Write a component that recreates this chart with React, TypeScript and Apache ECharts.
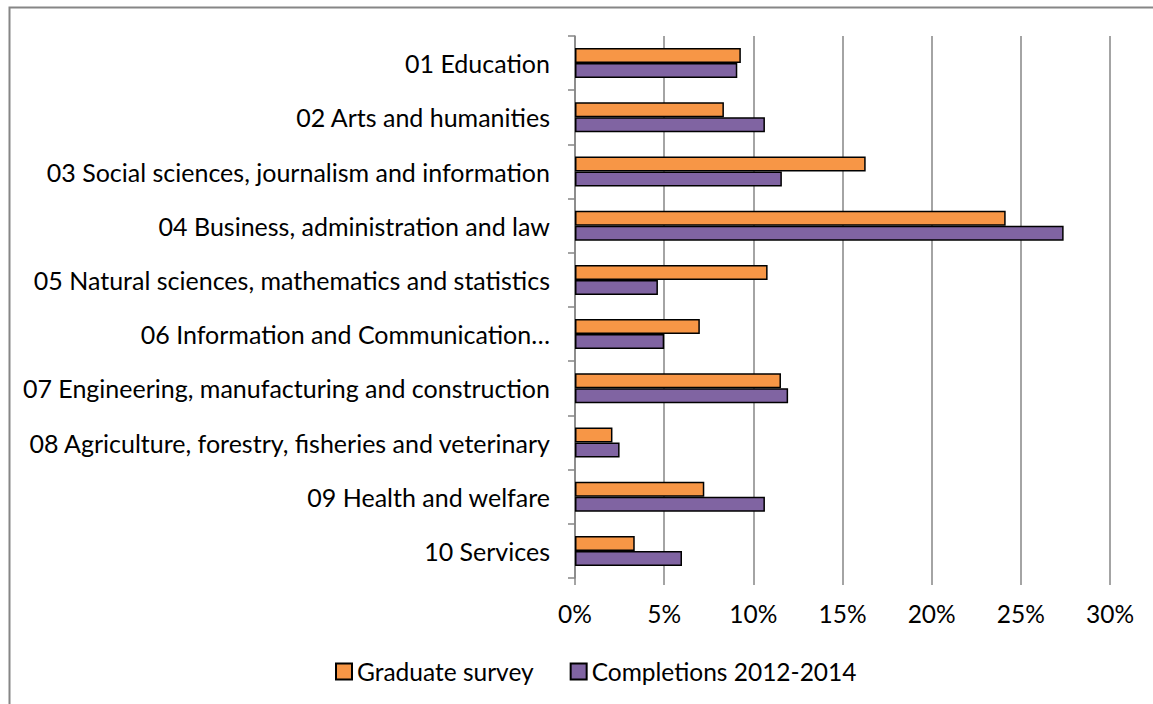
import React, { useEffect, useRef } from "react";
import * as echarts from "echarts";

const categories = [
  "01 Education",
  "02 Arts and humanities",
  "03 Social sciences, journalism and information",
  "04 Business, administration and law",
  "05 Natural sciences, mathematics and statistics",
  "06 Information and Communication…",
  "07 Engineering, manufacturing and construction",
  "08 Agriculture, forestry, fisheries and veterinary",
  "09 Health and welfare",
  "10 Services",
];
const graduateSurvey = [9.3, 8.35, 16.3, 24.15, 10.8, 7.0, 11.55, 2.1, 7.25, 3.35];
const completions = [9.1, 10.65, 11.6, 27.4, 4.65, 5.0, 11.95, 2.5, 10.65, 6.0];
const seriesNames = ["Graduate survey", "Completions 2012-2014"];

const FONT = "Lato";
const FS = 24.5;

export default function App() {
  const ref = useRef<HTMLDivElement>(null);
  useEffect(() => {
    if (!ref.current) return;
    const chart = echarts.init(ref.current, undefined, { renderer: "svg" });
    chart.setOption({
      animation: false,
      backgroundColor: "#fff",
      textStyle: { fontFamily: FONT },
      graphic: [
        {
          type: "rect",
          shape: { x: 9.5, y: 7.5, width: 1400, height: 900 },
          style: { fill: "none", stroke: "#868686", lineWidth: 2 },
          silent: true,
        },
      ],
      grid: { left: 575, right: 43, top: 36, bottom: 126, containLabel: false },
      legend: {
        top: 654,
        left: 330,
        itemWidth: 16,
        itemHeight: 16,
        itemGap: 36,
        icon: "rect",
        textStyle: { fontFamily: FONT, fontSize: FS, color: "#000" },
        data: seriesNames,
      },
      xAxis: {
        type: "value",
        min: 0,
        max: 30,
        interval: 5,
        axisLine: { show: false },
        axisTick: { show: true, length: 7, lineStyle: { color: "#868686", width: 1.5 } },
        splitLine: { show: true, lineStyle: { color: "#868686", width: 1.5 } },
        axisLabel: {
          formatter: "{value}%",
          fontFamily: FONT,
          fontSize: FS,
          color: "#000",
          margin: 23,
        },
      },
      yAxis: {
        type: "category",
        inverse: true,
        data: categories,
        axisLine: { show: true, lineStyle: { color: "#868686", width: 1.5 } },
        axisTick: { show: true, length: 7, lineStyle: { color: "#868686", width: 1.5 } },
        axisLabel: { fontFamily: FONT, fontSize: 25, color: "#000", margin: 25 },
      },
      series: [
        {
          name: seriesNames[0],
          type: "bar",
          data: graduateSurvey,
          barWidth: 15,
          barGap: "0%",
          barCategoryGap: "43%",
          itemStyle: { color: "#F79646", borderColor: "#000", borderWidth: 1.5 },
        },
        {
          name: seriesNames[1],
          type: "bar",
          data: completions,
          barWidth: 15,
          barGap: "0%",
          itemStyle: { color: "#8064A2", borderColor: "#000", borderWidth: 1.5 },
        },
      ],
    });
    return () => chart.dispose();
  }, []);
  return (
    <div
      ref={ref}
      style={{ position: "fixed", left: 0, top: 0, width: 1153, height: 704 }}
    />
  );
}
